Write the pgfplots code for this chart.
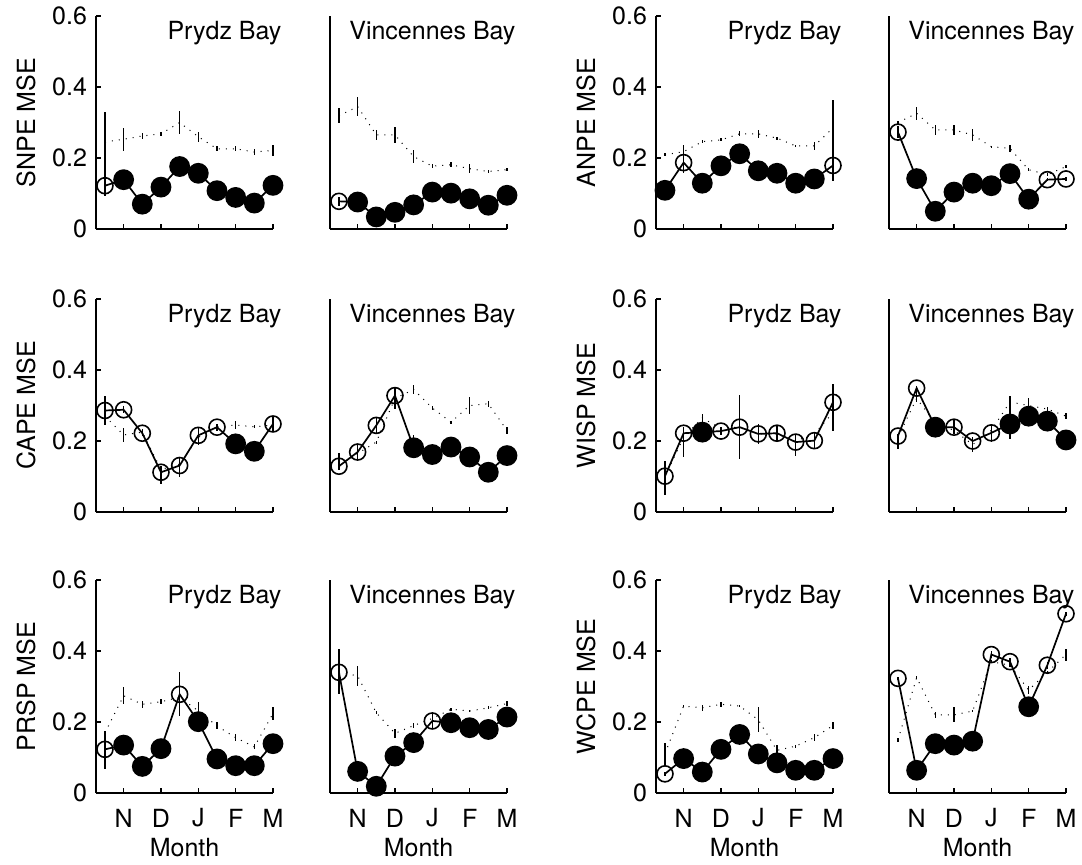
\documentclass[border=0pt]{standalone}
\usepackage{fontspec}
\setmainfont{TeX Gyre Heros}
\usepackage{pgfplots}
\usepackage{pgfplotstable}
\pgfplotsset{compat=1.18}
\newcommand{\fsz}{\fontsize{12.5}{15}\selectfont}

% columns: x, main series (m, +err, -err, class f=filled o=open), dotted series (d, +err, -err)
\pgfplotstableread{
x m mp mm c d dp dm
0.5 0.122 0.208 0.030 o 0.245 0.005 0.005
1 0.139 0.01 0.01 f 0.253 0.032 0.032
1.5 0.070 0.01 0.01 f 0.262 0.008 0.008
2 0.118 0.01 0.01 f 0.268 0.006 0.006
2.5 0.176 0.01 0.01 f 0.300 0.032 0.032
3 0.157 0.01 0.01 f 0.260 0.014 0.014
3.5 0.108 0.01 0.01 f 0.226 0.007 0.007
4 0.089 0.01 0.01 f 0.226 0.007 0.007
4.5 0.073 0.01 0.01 f 0.217 0.008 0.008
5 0.123 0.028 0.01 f 0.221 0.016 0.016
}\snpeP
\pgfplotstableread{
x m mp mm c d dp dm
0.5 0.078 0.012 0.012 o 0.319 0.021 0.021
1 0.076 0.01 0.01 f 0.345 0.028 0.028
1.5 0.034 0.01 0.01 f 0.265 0.014 0.014
2 0.047 0.01 0.01 f 0.265 0.023 0.023
2.5 0.068 0.01 0.01 f 0.204 0.019 0.019
3 0.104 0.01 0.01 f 0.177 0.006 0.006
3.5 0.101 0.01 0.01 f 0.181 0.007 0.007
4 0.085 0.01 0.01 f 0.170 0.012 0.012
4.5 0.067 0.01 0.01 f 0.162 0.004 0.004
5 0.095 0.01 0.01 f 0.167 0.004 0.004
}\snpeV
\pgfplotstableread{
x m mp mm c d dp dm
0.5 0.109 0.01 0.01 f 0.209 0.004 0.004
1 0.187 0.050 0.030 o 0.218 0.005 0.005
1.5 0.129 0.01 0.01 f 0.246 0.004 0.004
2 0.178 0.01 0.030 f 0.251 0.004 0.004
2.5 0.212 0.01 0.01 f 0.268 0.007 0.007
3 0.164 0.01 0.01 f 0.268 0.012 0.012
3.5 0.157 0.01 0.01 f 0.256 0.004 0.004
4 0.129 0.01 0.01 f 0.234 0.004 0.004
4.5 0.141 0.01 0.01 f 0.234 0.012 0.012
5 0.179 0.185 0.045 o 0.285 0.005 0.005
}\anpeP
\pgfplotstableread{
x m mp mm c d dp dm
0.5 0.273 0.016 0.016 o 0.300 0.003 0.003
1 0.142 0.01 0.01 f 0.326 0.019 0.019
1.5 0.050 0.01 0.01 f 0.279 0.014 0.014
2 0.104 0.01 0.01 f 0.279 0.014 0.014
2.5 0.129 0.01 0.01 f 0.265 0.016 0.016
3 0.122 0.01 0.01 f 0.232 0.003 0.003
3.5 0.156 0.01 0.01 f 0.227 0.009 0.009
4 0.084 0.01 0.01 f 0.167 0.004 0.004
4.5 0.139 0.005 0.005 o 0.153 0.004 0.004
5 0.141 0.005 0.005 o 0.176 0.004 0.004
}\anpeV
\pgfplotstableread{
x m mp mm c d dp dm
0.5 0.286 0.042 0.042 o 0.270 0.010 0.010
1 0.288 0.010 0.010 o 0.217 0.021 0.021
1.5 0.222 0.005 0.005 o 0.225 0.010 0.010
2 0.112 0.015 0.032 o 0.120 0.010 0.010
2.5 0.131 0.020 0.032 o 0.135 0.010 0.010
3 0.216 0.024 0.027 o 0.210 0.010 0.010
3.5 0.239 0.010 0.010 o 0.240 0.008 0.008
4 0.192 0.01 0.01 f 0.245 0.010 0.010
4.5 0.171 0.01 0.01 f 0.240 0.004 0.004
5 0.248 0.020 0.023 o 0.245 0.005 0.005
}\capeP
\pgfplotstableread{
x m mp mm c d dp dm
0.5 0.129 0.036 0.012 o 0.130 0.005 0.005
1 0.169 0.020 0.020 o 0.165 0.005 0.005
1.5 0.244 0.025 0.025 o 0.197 0.004 0.004
2 0.328 0.020 0.037 o 0.320 0.005 0.005
2.5 0.181 0.035 0.030 f 0.345 0.012 0.012
3 0.162 0.01 0.01 f 0.293 0.007 0.007
3.5 0.183 0.028 0.023 f 0.253 0.004 0.004
4 0.155 0.01 0.01 f 0.300 0.023 0.023
4.5 0.112 0.01 0.01 f 0.305 0.009 0.009
5 0.159 0.01 0.01 f 0.230 0.009 0.009
}\capeV
\pgfplotstableread{
x m mp mm c d dp dm
0.5 0.101 0.044 0.054 o 0.100 0.005 0.005
1 0.222 0.017 0.067 o 0.210 0.005 0.005
1.5 0.225 0.051 0.010 f 0.265 0.007 0.007
2 0.228 0.012 0.012 o 0.235 0.005 0.005
2.5 0.239 0.092 0.089 o 0.240 0.005 0.005
3 0.220 0.028 0.028 o 0.220 0.005 0.005
3.5 0.222 0.023 0.023 o 0.220 0.005 0.005
4 0.197 0.023 0.038 o 0.200 0.005 0.005
4.5 0.201 0.020 0.020 o 0.220 0.005 0.005
5 0.309 0.051 0.080 o 0.280 0.005 0.005
}\wispP
\pgfplotstableread{
x m mp mm c d dp dm
0.5 0.214 0.005 0.036 o 0.210 0.005 0.005
1 0.349 0.005 0.040 o 0.320 0.005 0.005
1.5 0.239 0.01 0.01 f 0.250 0.005 0.005
2 0.239 0.020 0.020 o 0.230 0.005 0.005
2.5 0.200 0.011 0.031 o 0.190 0.020 0.020
3 0.223 0.025 0.025 o 0.230 0.005 0.005
3.5 0.248 0.080 0.042 f 0.310 0.014 0.014
4 0.270 0.050 0.010 f 0.300 0.010 0.010
4.5 0.256 0.01 0.01 f 0.290 0.005 0.005
5 0.203 0.01 0.01 f 0.270 0.008 0.008
}\wispV
\pgfplotstableread{
x m mp mm c d dp dm
0.5 0.123 0.052 0.055 o 0.170 0.005 0.005
1 0.135 0.01 0.01 f 0.274 0.024 0.024
1.5 0.075 0.01 0.01 f 0.250 0.010 0.010
2 0.125 0.010 0.025 f 0.257 0.007 0.007
2.5 0.278 0.062 0.061 o 0.270 0.005 0.005
3 0.201 0.054 0.010 f 0.231 0.004 0.004
3.5 0.096 0.01 0.01 f 0.189 0.010 0.010
4 0.077 0.01 0.01 f 0.156 0.010 0.010
4.5 0.077 0.01 0.01 f 0.130 0.007 0.007
5 0.139 0.01 0.01 f 0.224 0.017 0.017
}\prspP
\pgfplotstableread{
x m mp mm c d dp dm
0.5 0.340 0.066 0.062 o 0.340 0.005 0.005
1 0.061 0.01 0.01 f 0.330 0.028 0.028
1.5 0.019 0.01 0.01 f 0.226 0.004 0.004
2 0.104 0.01 0.01 f 0.168 0.012 0.012
2.5 0.142 0.01 0.01 f 0.190 0.007 0.007
3 0.203 0.020 0.020 o 0.210 0.005 0.005
3.5 0.198 0.01 0.01 f 0.236 0.004 0.004
4 0.184 0.01 0.01 f 0.231 0.004 0.004
4.5 0.179 0.01 0.01 f 0.240 0.004 0.004
5 0.214 0.01 0.01 f 0.252 0.007 0.007
}\prspV
\pgfplotstableread{
x m mp mm c d dp dm
0.5 0.054 0.005 0.005 o 0.111 0.031 0.031
1 0.097 0.01 0.01 f 0.245 0.004 0.004
1.5 0.059 0.01 0.01 f 0.240 0.009 0.009
2 0.123 0.01 0.01 f 0.250 0.007 0.007
2.5 0.165 0.01 0.01 f 0.245 0.004 0.004
3 0.110 0.01 0.01 f 0.206 0.035 0.035
3.5 0.085 0.01 0.01 f 0.120 0.016 0.016
4 0.064 0.01 0.01 f 0.132 0.004 0.004
4.5 0.064 0.01 0.01 f 0.156 0.009 0.009
5 0.097 0.01 0.01 f 0.190 0.009 0.009
}\wcpeP
\pgfplotstableread{
x m mp mm c d dp dm
0.5 0.323 0.005 0.005 o 0.150 0.005 0.005
1 0.064 0.01 0.01 f 0.325 0.005 0.005
1.5 0.139 0.01 0.01 f 0.220 0.009 0.009
2 0.135 0.01 0.01 f 0.220 0.021 0.021
2.5 0.146 0.01 0.01 f 0.231 0.004 0.004
3 0.390 0.010 0.010 o 0.370 0.005 0.005
3.5 0.370 0.010 0.010 o 0.360 0.005 0.005
4 0.243 0.01 0.01 f 0.290 0.012 0.012
4.5 0.360 0.010 0.010 o 0.340 0.005 0.005
5 0.505 0.005 0.005 o 0.390 0.017 0.017
}\wcpeV

\pgfplotsset{
  mse/.style={
    scale only axis, width=88.5pt, height=106.5pt,
    xmin=0.26, xmax=5, ymin=0, ymax=0.6, clip=false,
    axis x line*=bottom, axis y line*=left,
    axis line style={-, line width=0.8pt, black},
    tick align=inside, major tick length=2.5pt,
    tick style={line width=0.6pt, black},
    xtick={1,2,3,4,5}, xticklabels={},
    ytick={0,0.2,0.4,0.6},
    /pgf/number format/assume math mode=true,
    every tick label/.append style={font=\fsz},
    yticklabel style={anchor=east, xshift=-1pt},
    xticklabel style={anchor=center, yshift=-12.5pt},
    every axis y label/.style={at={([xshift=-35pt]axis description cs:0,0.5)}, rotate=90, anchor=center, font=\fsz},
    every axis x label/.style={at={([yshift=-27.5pt]axis description cs:0.5,0)}, anchor=center, font=\fsz},
  },
  rightp/.style={ytick=\empty},
  bottomp/.style={xticklabels={N,D,J,F,M}, xlabel={Month}},
}

\newcommand{\series}[2]{%
  \addplot[black, line width=0.5pt, dash pattern=on 0.5pt off 3pt,
    error bars/.cd, y dir=both, y explicit, error mark=none,
    error bar style={solid, line width=0.6pt}]
    table[x=x, y=d, y error plus=dp, y error minus=dm] {#1};
  \addplot[black, line width=0.85pt, scatter, scatter src=explicit symbolic,
    scatter/classes={f={mark=*, mark size=4.8pt, fill=black}, o={mark=o, mark size=4pt}},
    mark options={solid, line width=0.8pt, draw=black},
    error bars/.cd, y dir=both, y explicit, error mark=none,
    error bar style={solid, line width=0.55pt}]
    table[x=x, y=m, y error plus=mp, y error minus=mm, meta=c] {#1};
  \node[anchor=east, inner sep=0pt, font=\fsz] at (rel axis cs:1.05,0.92) {#2};
}

\begin{document}
\begin{tikzpicture}
\useasboundingbox (0,0) rectangle (541pt,-432pt);
% row 1
\begin{axis}[mse, at={(48pt,-114.5pt)}, anchor=south west, ylabel={SNPE MSE}]
\series{\snpeP}{Prydz Bay}
\end{axis}
\begin{axis}[mse, rightp, at={(165pt,-114.5pt)}, anchor=south west]
\series{\snpeV}{Vincennes Bay}
\end{axis}
\begin{axis}[mse, at={(328pt,-114.5pt)}, anchor=south west, ylabel={ANPE MSE}]
\series{\anpeP}{Prydz Bay}
\end{axis}
\begin{axis}[mse, rightp, at={(444.5pt,-114.5pt)}, anchor=south west]
\series{\anpeV}{Vincennes Bay}
\end{axis}
% row 2
\begin{axis}[mse, at={(48pt,-256pt)}, anchor=south west, ylabel={CAPE MSE}]
\series{\capeP}{Prydz Bay}
\end{axis}
\begin{axis}[mse, rightp, at={(165pt,-256pt)}, anchor=south west]
\series{\capeV}{Vincennes Bay}
\end{axis}
\begin{axis}[mse, at={(328pt,-256pt)}, anchor=south west, ylabel={WISP MSE}]
\series{\wispP}{Prydz Bay}
\end{axis}
\begin{axis}[mse, rightp, at={(444.5pt,-256pt)}, anchor=south west]
\series{\wispV}{Vincennes Bay}
\end{axis}
% row 3
\begin{axis}[mse, bottomp, at={(48pt,-396.5pt)}, anchor=south west, ylabel={PRSP MSE}]
\series{\prspP}{Prydz Bay}
\end{axis}
\begin{axis}[mse, rightp, bottomp, at={(165pt,-396.5pt)}, anchor=south west]
\series{\prspV}{Vincennes Bay}
\end{axis}
\begin{axis}[mse, bottomp, at={(328pt,-396.5pt)}, anchor=south west, ylabel={WCPE MSE}]
\series{\wcpeP}{Prydz Bay}
\end{axis}
\begin{axis}[mse, rightp, bottomp, at={(444.5pt,-396.5pt)}, anchor=south west]
\series{\wcpeV}{Vincennes Bay}
\end{axis}
\end{tikzpicture}
\end{document}
